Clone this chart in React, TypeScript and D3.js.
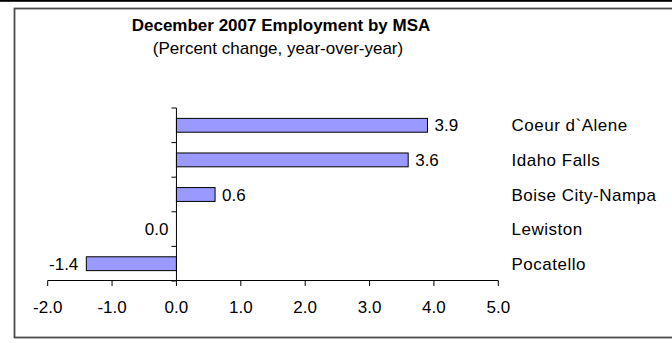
import React from "react";
import * as d3 from "d3";

const categories = ["Coeur d`Alene", "Idaho Falls", "Boise City-Nampa", "Lewiston", "Pocatello"];
const values = [3.9, 3.6, 0.6, 0.0, -1.4];
const xTicks = [-2, -1, 0, 1, 2, 3, 4, 5];
const title = "December 2007 Employment by MSA";
const subtitle = "(Percent change, year-over-year)";

const W = 672;
const H = 343;
const FONT = "'Liberation Sans', Arial, sans-serif";

export default function App() {
  const x = d3.scaleLinear().domain([-2, 5]).range([47.7, 498.3]);
  const y = d3.scaleBand<string>().domain(categories).range([108, 281]).paddingInner(0.6).paddingOuter(0.3);
  const step = y.step();
  const x0 = x(0);
  const boundaries = d3.range(categories.length + 1).map((i) => 108 + i * step);

  return (
    <svg width={W} height={H} style={{ position: "absolute", left: 0, top: 0, background: "#fff" }}>
      <rect x={0} y={0} width={W} height={H} fill="#fff" />
      <rect x={0} y={0} width={W} height={1.8} fill="#000" />
      <rect x={14.5} y={8.5} width={W + 10} height={329} fill="none" stroke="#4a4a4a" strokeWidth={1.8} />
      <text x={281} y={31} textAnchor="middle" fontFamily={FONT} fontWeight="bold" fontSize={17} fill="#000">
        {title}
      </text>
      <text x={278} y={54} textAnchor="middle" fontFamily={FONT} fontSize={17} fill="#000">
        {subtitle}
      </text>
      {categories.map((c, i) => {
        const v = values[i];
        const xa = x(Math.min(0, v));
        const xb = x(Math.max(0, v));
        const cy = (y(c) as number) + y.bandwidth() / 2;
        return (
          <g key={c}>
            {v !== 0 && (
              <rect x={xa} y={y(c)} width={xb - xa} height={y.bandwidth()} fill="#9999ff" stroke="#000" strokeWidth={1} />
            )}
            <text
              x={v > 0 ? xb + 7 : xa - 8}
              y={cy}
              dy="0.36em"
              textAnchor={v > 0 ? "start" : "end"}
              fontFamily={FONT}
              fontSize={17}
              fill="#000"
            >
              {v.toFixed(1)}
            </text>
            <text x={511.5} y={cy} dy="0.36em" fontFamily={FONT} fontSize={17} letterSpacing={0.5} fill="#000">
              {c}
            </text>
          </g>
        );
      })}
      <line x1={x0} x2={x0} y1={108} y2={281} stroke="#000" strokeWidth={1} />
      {boundaries.map((b, i) => (
        <line key={i} x1={x0 - 5} x2={x0} y1={b} y2={b} stroke="#000" strokeWidth={1} />
      ))}
      <line x1={x(-2)} x2={x(5)} y1={280.5} y2={280.5} stroke="#000" strokeWidth={1} />
      {xTicks.map((t) => (
        <g key={t}>
          <line x1={x(t)} x2={x(t)} y1={280.5} y2={286} stroke="#000" strokeWidth={1} />
          <text x={x(t)} y={307} dy="0.36em" textAnchor="middle" fontFamily={FONT} fontSize={17} fill="#000">
            {t.toFixed(1)}
          </text>
        </g>
      ))}
    </svg>
  );
}
